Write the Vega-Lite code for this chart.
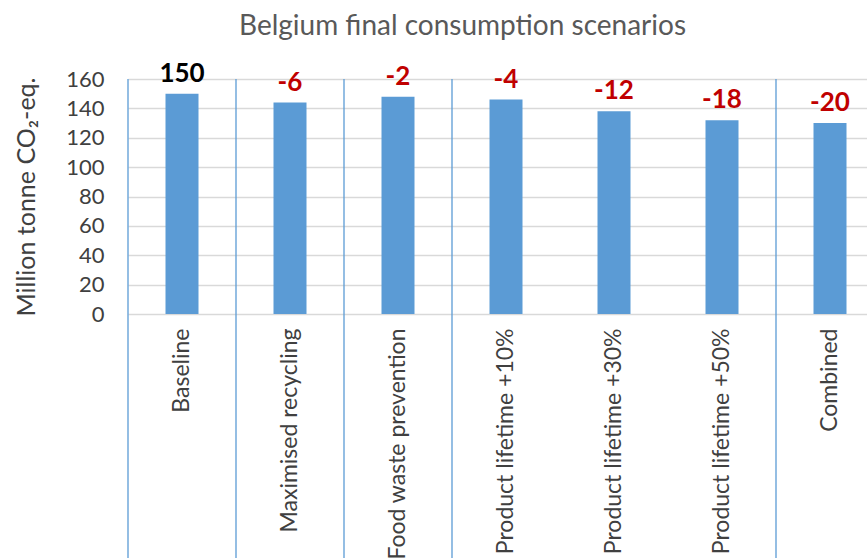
{
  "$schema": "https://vega.github.io/schema/vega-lite/v6.json",
  "autosize": {"type": "none"},
  "width": 739,
  "height": 235,
  "padding": {"left": 128, "top": 79, "right": 0, "bottom": 244},
  "background": "white",
  "config": {
    "view": {"stroke": null},
    "font": "Lato",
    "axisY": {
      "labelOverlap": false,
      "tickCount": 9,
      "labelFont": "Lato",
      "labelFontSize": 22,
      "labelColor": "#404040",
      "labelPadding": 24,
      "ticks": false,
      "domain": false,
      "grid": true,
      "gridColor": "#D9D9D9",
      "gridWidth": 1.3,
      "titleFont": "Lato",
      "titleFontSize": 25,
      "titleFontWeight": "normal",
      "titleColor": "#404040",
      "titlePadding": 26
    }
  },
  "title": {
    "text": "Belgium final consumption scenarios",
    "font": "Lato",
    "fontSize": 28,
    "fontWeight": "normal",
    "color": "#595959",
    "anchor": "middle",
    "frame": "group",
    "baseline": "alphabetic",
    "offset": 12,
    "dy": 14,
    "dx": -35
  },
  "data": {
    "values": [
      {"scenario": "Baseline", "value": 150, "label": "150", "sep": true},
      {"scenario": "Maximised recycling", "value": 144, "label": "-6", "sep": true},
      {"scenario": "Food waste prevention", "value": 148, "label": "-2", "sep": true},
      {"scenario": "Product lifetime +10%", "value": 146, "label": "-4", "sep": true},
      {"scenario": "Product lifetime +30%", "value": 138, "label": "-12", "sep": false},
      {"scenario": "Product lifetime +50%", "value": 132, "label": "-18", "sep": false},
      {"scenario": "Combined", "value": 130, "label": "-20", "sep": true}
    ]
  },
  "encoding": {
    "x": {
      "field": "scenario",
      "type": "nominal",
      "sort": null,
      "scale": {"range": [0, 756], "paddingInner": 0, "paddingOuter": 0},
      "axis": {
        "title": null,
        "labelAngle": -90,
        "labelFont": "Lato",
        "labelFontSize": 23,
        "labelColor": "#404040",
        "labelPadding": 14,
        "ticks": false,
        "domain": false,
        "labelLimit": 400
      }
    }
  },
  "layer": [
    {
      "mark": {"type": "bar", "color": "#5B9BD5", "size": 33},
      "encoding": {
        "y": {
          "field": "value",
          "type": "quantitative",
          "scale": {"domain": [0, 160], "nice": false},
          "axis": {
            "values": [0, 20, 40, 60, 80, 100, 120, 140, 160],
            "title": "Million tonne CO₂-eq."
          }
        }
      }
    },
    {
      "transform": [{"filter": "datum.sep"}],
      "mark": {"type": "rule", "color": "#5B9BD5", "strokeWidth": 1.3, "clip": false},
      "encoding": {
        "x": {"field": "scenario", "type": "nominal", "sort": null, "bandPosition": 0},
        "y": {"datum": 160, "axis": {"values": [0, 20, 40, 60, 80, 100, 120, 140, 160], "title": "Million tonne CO₂-eq."}},
        "y2": {"datum": -180}
      }
    },
    {
      "mark": {"type": "text", "font": "Lato", "fontSize": 26, "fontWeight": "bold", "baseline": "alphabetic", "dy": -12, "clip": false},
      "encoding": {
        "y": {"field": "value", "type": "quantitative", "axis": {"values": [0, 20, 40, 60, 80, 100, 120, 140, 160], "title": "Million tonne CO₂-eq."}},
        "text": {"field": "label"},
        "color": {
          "condition": {"test": "datum.scenario === 'Baseline'", "value": "#000000"},
          "value": "#C00000"
        }
      }
    }
  ]
}
